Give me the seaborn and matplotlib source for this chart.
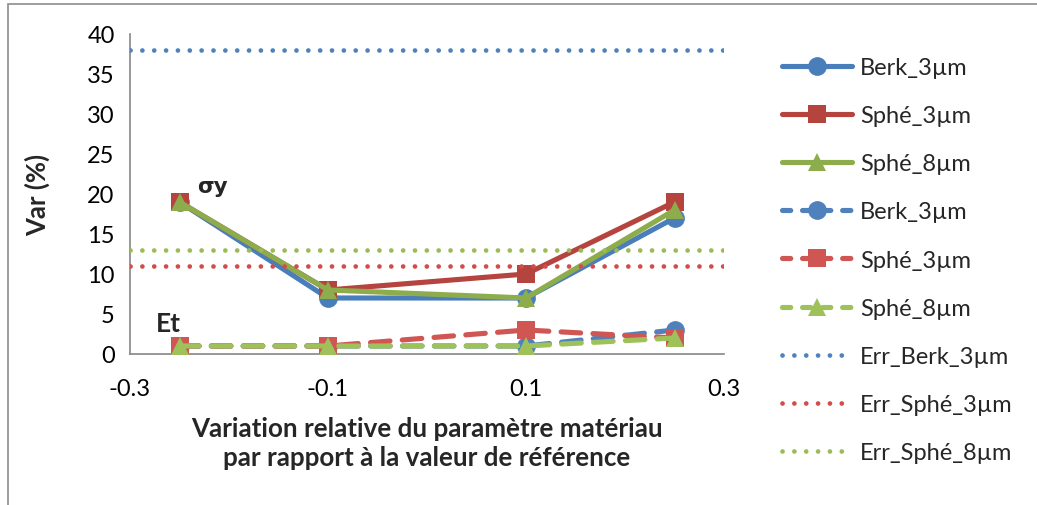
import matplotlib
matplotlib.use("Agg")
import matplotlib.pyplot as plt
import seaborn as sns
import pandas as pd
from matplotlib.patches import Rectangle
from matplotlib.lines import Line2D

# Relative variation of the material parameter
x_vals = [-0.25, -0.1, 0.1, 0.25]

# Yield stress (sigma_y) variation, %
sy_berk_3 = [19, 7, 7, 17]
sy_sphe_3 = [19, 8, 10, 19]
sy_sphe_8 = [19, 8, 7, 18]

# Tangent modulus (Et) variation, %
et_berk_3 = [1, 1, 1, 3]
et_sphe_3 = [1, 1, 3, 2]
et_sphe_8 = [1, 1, 1, 2]

# Identification error levels, %
err_levels = [38, 11, 13]
err_labels = ["Err_Berk_3µm", "Err_Sphé_3µm", "Err_Sphé_8µm"]

series_labels = ["Berk_3µm", "Sphé_3µm", "Sphé_8µm"]
x_ticks = [-0.3, -0.1, 0.1, 0.3]
x_ticklabels = ["-0.3", "-0.1", "0.1", "0.3"]
y_ticks = [0, 5, 10, 15, 20, 25, 30, 35, 40]

sns.set_theme(style="white")
plt.rcParams["font.family"] = ["Lato", "DejaVu Sans"]

solid_colors = ["#4A7EBB", "#B5443F", "#8DAD4C"]
dash_colors = ["#4F81BD", "#CF5653", "#9FC15A"]
dot_colors = ["#4F81BD", "#D24D4A", "#9BBB59"]
markers = ["o", "s", "^"]

FS = 17
fig = plt.figure(figsize=(10.37, 5.06), dpi=100)
ax = fig.add_axes([130 / 1037, 1 - 355 / 506, (724 - 130) / 1037, (355 - 35) / 506])

lw = 3.7
ms = 13.5
dot_lw = 3.4
dot_style = (0, (0.01, 2.5))

handles = []
for ys, c, m, lab in zip([sy_berk_3, sy_sphe_3, sy_sphe_8], solid_colors, markers, series_labels):
    df = pd.DataFrame({"x": x_vals, "y": ys})
    sns.lineplot(data=df, x="x", y="y", ax=ax, color=c, marker=m, markersize=ms,
                 markeredgecolor=c, markeredgewidth=0, linewidth=lw, sort=False,
                 errorbar=None, solid_capstyle="round", solid_joinstyle="round",
                 legend=False, zorder=3)
    handles.append(Line2D([], [], color=c, marker=m, markersize=ms, markeredgewidth=0,
                          linewidth=lw, solid_capstyle="round", label=lab))

for ys, c, m, lab in zip([et_berk_3, et_sphe_3, et_sphe_8], dash_colors, markers, series_labels):
    df = pd.DataFrame({"x": x_vals, "y": ys})
    sns.lineplot(data=df, x="x", y="y", ax=ax, color=c, marker=m, markersize=ms,
                 markeredgecolor=c, markeredgewidth=0, linewidth=lw, sort=False,
                 errorbar=None, linestyle=(0, (3.8, 2.4)), dash_capstyle="round",
                 legend=False, zorder=3)
    handles.append(Line2D([], [], color=c, marker=m, markersize=ms, markeredgewidth=0,
                          linewidth=lw, linestyle=(0, (1.6, 2.3)), dash_capstyle="round",
                          label=lab))

for val, c, lab in zip(err_levels, dot_colors, err_labels):
    ax.axhline(val, color=c, linewidth=dot_lw, linestyle=dot_style,
               dash_capstyle="round", zorder=4)
    handles.append(Line2D([], [], color=c, linewidth=dot_lw, linestyle=dot_style,
                          dash_capstyle="round", label=lab))

ax.set_xlim(-0.3, 0.3)
ax.set_ylim(0, 40)
ax.set_xticks(x_ticks)
ax.set_xticklabels(x_ticklabels)
ax.set_yticks(y_ticks)

for side in ["top", "right"]:
    ax.spines[side].set_visible(False)
for side in ["left", "bottom"]:
    ax.spines[side].set_color("#868686")
    ax.spines[side].set_linewidth(1.2)
ax.tick_params(axis="both", which="major", length=6, width=1.2, color="#868686",
               labelsize=FS, labelcolor="black", direction="out")
ax.tick_params(axis="x", pad=11)
ax.tick_params(axis="y", pad=5)
ax.grid(False)

ax.set_xlabel("Variation relative du paramètre matériau\npar rapport à la valeur de référence",
              fontsize=18.7, fontweight="bold", linespacing=1.25)
ax.xaxis.set_label_coords(0.5, -0.195)
ax.set_ylabel("Var (%)", fontsize=18.5, fontweight="bold")
ax.yaxis.set_label_coords(-0.135, 0.5)

ax.annotate("σy", xy=(-0.25, 19), xytext=(13, 4), textcoords="offset points",
            fontsize=15.5, fontweight="bold", ha="left", va="bottom",
            family=["DejaVu Sans"])
ax.annotate("Et", xy=(-0.25, 1), xytext=(-17, 8), textcoords="offset points",
            fontsize=19, fontweight="bold", ha="left", va="bottom")

fig.legend(handles=handles, loc="upper left", bbox_to_anchor=(782 / 1037, 1 - 58 / 506),
           frameon=False, fontsize=FS, handlelength=2.96, handletextpad=0.34,
           labelspacing=1.15, borderaxespad=0, borderpad=0)

# Outer chart frame
fig.patches.append(Rectangle((8 / 1037, -0.05), 1.2, 1 - 5 / 506 + 0.05,
                             transform=fig.transFigure, fill=False,
                             edgecolor="#8C8C8C", linewidth=1.2, zorder=0))

fig.savefig("out.png", dpi=100)
